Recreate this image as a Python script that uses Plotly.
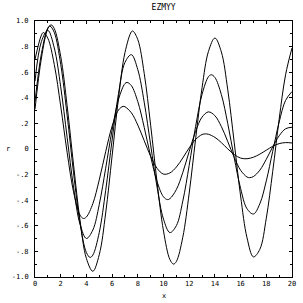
import plotly.graph_objects as go

# regular reading grid (x = 0, 0.5, ..., 20)
x_grid = [i * 0.5 for i in range(41)]

curve_a = [0.31, 0.711, 0.940, 0.941, 0.724, 0.338, -0.124, -0.555, -0.855,
           -0.955, -0.826, -0.500, -0.054, 0.400, 0.753, 0.916, 0.855, 0.590,
           0.186, -0.260, -0.641, -0.864, -0.879, -0.690, -0.344, 0.079, 0.479,
           0.763, 0.867, 0.759, 0.463, 0.053, -0.367, -0.694, -0.843, -0.783,
           -0.541, -0.174, 0.232, 0.580, 0.789]
curve_b = [0.37, 0.746, 0.946, 0.911, 0.662, 0.264, -0.186, -0.576, -0.809,
           -0.829, -0.652, -0.324, 0.070, 0.434, 0.676, 0.737, 0.620, 0.365,
           0.032, -0.298, -0.548, -0.653, -0.599, -0.408, -0.127, 0.177, 0.427,
           0.565, 0.559, 0.426, 0.199, -0.067, -0.308, -0.467, -0.508, -0.427,
           -0.249, -0.018, 0.210, 0.380, 0.449]
curve_c = [0.53, 0.840, 0.927, 0.790, 0.486, 0.091, -0.299, -0.586, -0.699,
           -0.633, -0.434, -0.150, 0.148, 0.388, 0.511, 0.495, 0.370, 0.169,
           -0.058, -0.255, -0.374, -0.388, -0.317, -0.184, -0.019, 0.138, 0.249,
           0.290, 0.260, 0.176, 0.058, -0.065, -0.166, -0.219, -0.215, -0.165,
           -0.080, 0.017, 0.103, 0.158, 0.170]
curve_d = [0.70, 0.890, 0.865, 0.660, 0.336, -0.026, -0.335, -0.516, -0.531,
           -0.427, -0.241, -0.021, 0.178, 0.305, 0.330, 0.283, 0.187, 0.065,
           -0.057, -0.151, -0.196, -0.187, -0.141, -0.070, 0.009, 0.075, 0.113,
           0.115, 0.091, 0.050, 0.001, -0.043, -0.071, -0.076, -0.064, -0.040,
           -0.009, 0.021, 0.042, 0.050, 0.047]

peaks_a_x = [1.25, 7.61, 10.78]
peaks_a_y = [0.970, 0.922, -0.899]
peaks_b_x = [1.17, 4.29, 13.72]
peaks_b_y = [0.960, -0.847, 0.580]
peaks_c_x = [7.17, 10.30, 16.70]
peaks_c_y = [0.520, -0.395, -0.224]
peaks_d_x = [0.65, 3.77, 6.85, 13.25]
peaks_d_y = [0.910, -0.543, 0.333, 0.118]

y_tickvals = [1.0, 0.8, 0.6, 0.4, 0.2, 0.0, -0.2, -0.4, -0.6, -0.8, -1.0]
y_ticktext = ["1.0", ".8", ".6", ".4", ".2", "0", "-.2", "-.4", "-.6", "-.8", "-1.0"]
x_tickvals = [0, 2, 4, 6, 8, 10, 12, 14, 16, 18, 20]
x_ticktext = ["0", "2", "4", "6", "8", "10", "12", "14", "16", "18", "20"]


def merged(grid_y, px, py):
    pts = sorted(list(zip(x_grid, grid_y)) + list(zip(px, py)))
    return [p[0] for p in pts], [p[1] for p in pts]


fig = go.Figure()
for gy, px, py in ((curve_a, peaks_a_x, peaks_a_y),
                   (curve_b, peaks_b_x, peaks_b_y),
                   (curve_c, peaks_c_x, peaks_c_y),
                   (curve_d, peaks_d_x, peaks_d_y)):
    xs, ys = merged(gy, px, py)
    fig.add_trace(go.Scatter(x=xs, y=ys, mode="lines",
                             line=dict(color="black", width=1, shape="spline", smoothing=1.0),
                             showlegend=False, hoverinfo="skip"))

font = dict(family="DejaVu Sans Mono", size=7, color="black")
axis_common = dict(showgrid=False, zeroline=False, showline=True, linecolor="black",
                   linewidth=1, mirror="ticks", ticks="inside", ticklen=3,
                   tickcolor="black", tickwidth=1, tickfont=font, automargin=False)

fig.update_layout(
    width=303, height=303,
    margin=dict(l=35, r=11, t=21, b=26, autoexpand=False),
    paper_bgcolor="white", plot_bgcolor="white",
    title=dict(text="EZMYY", x=0.54, xanchor="center", y=0.975, yanchor="middle",
               font=dict(family="DejaVu Sans Mono", size=8, color="black")),
    xaxis=dict(range=[0, 20], tickvals=x_tickvals, ticktext=x_ticktext,
               minor=dict(dtick=1, ticks="inside", ticklen=2, tickcolor="black"),
               ticklabelstandoff=0,
               **axis_common),
    yaxis=dict(range=[-1.0, 1.0], tickvals=y_tickvals, ticktext=y_ticktext,
               minor=dict(dtick=0.1, ticks="inside", ticklen=2, tickcolor="black"),
               ticklabelstandoff=4,
               **axis_common),
    annotations=[
        dict(text="x", xref="paper", yref="paper", x=0.5, y=-0.05,
             xanchor="center", yanchor="top", showarrow=False, font=font),
        dict(text="r", xref="paper", yref="paper", x=-0.105, y=0.5,
             xanchor="center", yanchor="middle", showarrow=False, font=font),
    ],
)

fig.write_html("out.html")
